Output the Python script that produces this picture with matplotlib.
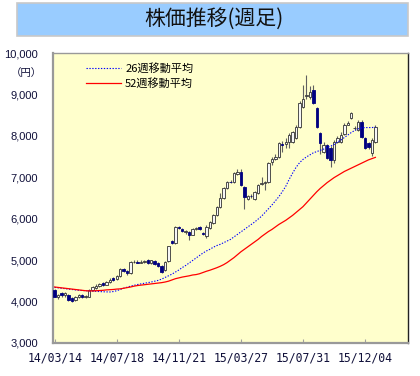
import numpy as np
import matplotlib
matplotlib.use('Agg')
import matplotlib.pyplot as plt
from matplotlib.patches import Rectangle

plt.rcParams['font.family'] = ['Noto Sans CJK JP', 'DejaVu Sans']

# 週足データ (14/03/14 から)
opens = [4280, 4100, 4200, 4150, 4150, 4080, 4030, 4100, 4150, 4110,
         4120, 4280, 4330, 4380, 4440, 4400, 4470, 4560, 4540, 4620,
         4790, 4740, 4680, 4950, 4960, 4940, 4950, 4990, 4930, 4980,
         4920, 4850, 4760, 4980, 5470, 5410, 5800, 5760, 5670, 5680,
         5610, 5750, 5800, 5660, 5570, 5780, 5900, 6090, 6280, 6500,
         6740, 6890, 6890, 7080, 7130, 6770, 6480, 6550, 6480, 6620,
         6840, 6870, 6890, 7370, 7440, 7490, 7800, 7800, 7850, 7850,
         7950, 8210, 8700, 8970, 8940, 9110, 8670, 8070, 7620, 7780,
         7710, 7420, 7850, 7850, 8040, 8270, 8430, 8190, 8140, 8340,
         7950, 7830, 7590, 7850]
closes = [4110, 4150, 4150, 4200, 4040, 4020, 4110, 4150, 4120, 4140,
          4280, 4340, 4380, 4420, 4400, 4480, 4520, 4520, 4620, 4780,
          4740, 4700, 4960, 4960, 4940, 4960, 4970, 4930, 4990, 4900,
          4860, 4710, 4950, 5330, 5410, 5800, 5770, 5700, 5700, 5610,
          5750, 5770, 5750, 5620, 5800, 5920, 6090, 6280, 6500, 6740,
          6890, 6880, 7100, 7130, 6810, 6520, 6550, 6540, 6650, 6810,
          6860, 6880, 7350, 7440, 7490, 7830, 7780, 7850, 8020, 8090,
          8210, 8790, 8890, 8990, 9060, 8790, 8210, 7830, 7780, 7470,
          7420, 7850, 7950, 8020, 8260, 8310, 8550, 8200, 8340, 7970,
          7710, 7720, 7900, 8210]
highs = [4300, 4180, 4220, 4230, 4170, 4100, 4130, 4180, 4170, 4160,
         4300, 4380, 4420, 4450, 4470, 4500, 4560, 4600, 4650, 4800,
         4820, 4760, 4980, 5000, 4990, 5000, 5010, 5020, 5010, 5000,
         4950, 4870, 4970, 5340, 5480, 5830, 5820, 5780, 5720, 5700,
         5780, 5800, 5820, 5680, 5850, 5950, 6120, 6300, 6620, 6760,
         6920, 6930, 7120, 7200, 7200, 6800, 6580, 6600, 6680, 6830,
         7000, 6920, 7380, 7480, 7560, 7850, 7880, 7950, 8060, 8120,
         8250, 8830, 9230, 9470, 9200, 9230, 8700, 8100, 7850, 7800,
         7750, 7900, 8000, 8100, 8300, 8350, 8580, 8230, 8380, 8380,
         7970, 7850, 7950, 8260]
lows = [4100, 4070, 4120, 4120, 4020, 3990, 4000, 4080, 4090, 4080,
        4100, 4260, 4310, 4350, 4380, 4390, 4450, 4500, 4520, 4600,
        4720, 4650, 4660, 4920, 4920, 4920, 4930, 4910, 4900, 4870,
        4830, 4690, 4740, 4960, 5380, 5390, 5740, 5680, 5640, 5490,
        5600, 5730, 5730, 5600, 5540, 5760, 5880, 6070, 6260, 6480,
        6720, 6850, 6870, 7050, 6790, 6230, 6450, 6510, 6460, 6600,
        6820, 6700, 6870, 7300, 7420, 7470, 7620, 7700, 7700, 7820,
        7930, 8190, 8680, 8900, 8900, 8760, 8180, 7560, 7580, 7440,
        7250, 7350, 7820, 7830, 8020, 8250, 8400, 8150, 8120, 7950,
        7690, 7680, 7520, 7830]

# 移動平均
ma26 = [4340, 4330, 4320, 4310, 4300, 4290, 4280, 4270, 4265, 4260,
        4255, 4250, 4245, 4240, 4235, 4232, 4230, 4240, 4260, 4290,
        4320, 4345, 4370, 4390, 4410, 4425, 4440, 4455, 4470, 4490,
        4510, 4540, 4580, 4620, 4660, 4710, 4760, 4820, 4870, 4930,
        4990, 5050, 5110, 5170, 5220, 5260, 5310, 5350, 5380, 5420,
        5460, 5500, 5560, 5620, 5680, 5740, 5800, 5860, 5920, 5990,
        6060, 6150, 6240, 6330, 6430, 6530, 6650, 6780, 6950, 7100,
        7240, 7350, 7430, 7490, 7540, 7590, 7620, 7650, 7680, 7720,
        7750, 7790, 7850, 7900, 7960, 8020, 8080, 8130, 8170, 8190,
        8200, 8200, 8200, 8210]
ma52 = [4350, 4340, 4330, 4320, 4310, 4300, 4290, 4280, 4270, 4260,
        4255, 4255, 4260, 4265, 4270, 4280, 4285, 4290, 4300, 4305,
        4320, 4335, 4350, 4370, 4385, 4395, 4405, 4415, 4425, 4435,
        4445, 4455, 4470, 4490, 4520, 4550, 4570, 4590, 4605, 4620,
        4640, 4650, 4670, 4700, 4730, 4755, 4785, 4815, 4850, 4890,
        4940, 5000, 5060, 5130, 5200, 5260, 5320, 5380, 5440, 5500,
        5570, 5630, 5690, 5740, 5800, 5860, 5910, 5960, 6020, 6080,
        6150, 6220, 6290, 6380, 6470, 6560, 6650, 6730, 6800, 6870,
        6930, 6990, 7040, 7090, 7140, 7180, 7220, 7260, 7300, 7340,
        7380, 7420, 7450, 7480]

tick_pos = [0, 18, 36, 54, 72, 90]
tick_labels = ['14/03/14', '14/07/18', '14/11/21', '15/03/27', '15/07/31', '15/12/04']

o = np.array(opens)
c = np.array(closes)
h = np.array(highs)
l = np.array(lows)
x = np.arange(len(o))
up = c >= o

fig = plt.figure(figsize=(4.2, 3.76), dpi=100)
fig.patch.set_facecolor('white')

# タイトルの帯
fig.patches.append(Rectangle((0.040, 0.904), 0.931, 0.088, transform=fig.transFigure,
                             facecolor='#99ccff', edgecolor='#c8c8c8', linewidth=1.2))
fig.text(0.510, 0.948, '株価推移(週足)', ha='center', va='center', fontsize=15,
         color='#111111')

ax = fig.add_axes([0.126, 0.088, 0.845, 0.771])
ax.set_facecolor('#ffffcc')

# ローソク足
ax.vlines(x, l, h, color='#606060', linewidth=0.8, zorder=2)
ax.bar(x[up], c[up] - o[up], bottom=o[up], width=0.7, color='#f6f6f6',
       edgecolor='#333333', linewidth=0.6, zorder=3)
ax.bar(x[~up], o[~up] - c[~up], bottom=c[~up], width=0.7, color='#000080',
       edgecolor='#000080', linewidth=0.6, zorder=3)

ax.plot(x, ma26, color='#0000ff', linestyle=(0, (1.2, 1.4)), linewidth=0.8,
        label='26週移動平均', zorder=4)
ax.plot(x, ma52, color='#ff0000', linewidth=0.9, label='52週移動平均', zorder=4)

ax.set_xlim(-0.5, 102.4)
ax.set_ylim(3000, 10000)
ax.set_yticks(range(3000, 10001, 1000))
ax.set_yticklabels(['{:,}'.format(v) for v in range(3000, 10001, 1000)],
                   family='Liberation Sans', fontsize=8, color='#10103a')
ax.set_xticks(tick_pos)
ax.set_xticklabels(tick_labels, family='DejaVu Sans Mono', fontsize=8.3, color='#10103a')
ax.tick_params(axis='y', length=0, pad=10.5)
ax.tick_params(axis='x', direction='in', length=3, color='#a0a0a0', pad=6)

for side in ['left', 'bottom']:
    ax.spines[side].set_color('#999999')
    ax.spines[side].set_linewidth(1.6)
ax.spines['top'].set_color('#999999')
ax.spines['top'].set_linewidth(1.0)
ax.spines['right'].set_color('#222222')
ax.spines['right'].set_linewidth(1.0)

fig.text(0.062, 0.806, '（円）', ha='center', va='center', fontsize=7.5, color='#10103a')

ax.legend(loc='upper left', bbox_to_anchor=(0.08, 0.98), frameon=False, fontsize=8,
          handlelength=3.2, handletextpad=0.35, labelspacing=0.35, borderaxespad=0)

fig.savefig('out.png', dpi=100)
